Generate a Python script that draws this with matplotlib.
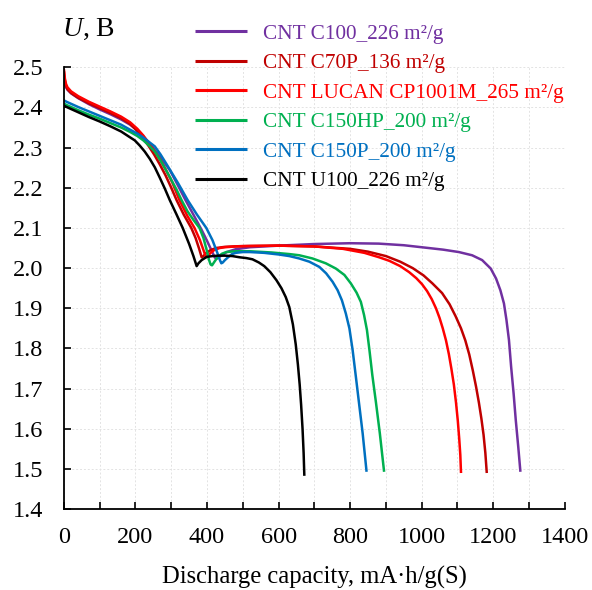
import numpy as np
import matplotlib
matplotlib.use("Agg")
import matplotlib.pyplot as plt

plt.rcParams["font.family"] = ["Liberation Serif", "DejaVu Serif"]
plt.rcParams["mathtext.fontset"] = "custom"
plt.rcParams["mathtext.rm"] = "Liberation Serif"
plt.rcParams["mathtext.it"] = "Liberation Serif:italic"

# discharge curves: capacity (mA·h/g) and voltage (V)
c100_x = [0, 1, 3, 6, 10, 20, 40, 70, 100, 130, 160, 185, 205, 222, 240, 258, 277, 296,
          318, 340, 362, 385, 400, 412, 422, 428, 438, 455, 480, 520, 600, 700, 800, 880,
          950, 1010, 1060, 1104, 1141, 1169, 1193, 1208, 1220, 1230, 1237, 1244, 1250,
          1257, 1263, 1270, 1276]
c100_y = [2.475, 2.468, 2.458, 2.45, 2.444, 2.435, 2.423, 2.408, 2.395, 2.383, 2.37, 2.357,
          2.343, 2.328, 2.31, 2.289, 2.267, 2.244, 2.207, 2.169, 2.133, 2.095, 2.068, 2.045,
          2.026, 2.024, 2.03, 2.04, 2.047, 2.052, 2.056, 2.06, 2.062, 2.061, 2.057, 2.051,
          2.046, 2.04, 2.032, 2.02, 1.999, 1.974, 1.945, 1.912, 1.871, 1.821, 1.755, 1.688,
          1.622, 1.555, 1.493]

c70p_x = [0, 1, 3, 6, 10, 20, 40, 70, 100, 130, 160, 185, 203, 220, 236, 252, 268, 284,
          300, 315, 335, 356, 368, 378, 385, 390, 398, 410, 425, 450, 500, 600, 700, 800,
          850, 900, 940, 975, 1005, 1030, 1057, 1078, 1095, 1110, 1122, 1133, 1143, 1152,
          1160, 1167, 1173, 1178, 1182]
c70p_y = [2.49, 2.48, 2.465, 2.453, 2.445, 2.436, 2.424, 2.41, 2.398, 2.386, 2.373, 2.359,
          2.343, 2.325, 2.305, 2.283, 2.258, 2.231, 2.2, 2.169, 2.133, 2.1, 2.075, 2.048,
          2.027, 2.03, 2.038, 2.045, 2.05, 2.053, 2.055, 2.056, 2.054, 2.048, 2.041, 2.03,
          2.016, 2.0, 1.982, 1.962, 1.938, 1.91, 1.88, 1.85, 1.82, 1.785, 1.745, 1.705,
          1.665, 1.625, 1.585, 1.54, 1.49]

lucan_x = [0, 1, 3, 6, 10, 20, 40, 70, 100, 130, 160, 185, 205, 222, 238, 254, 270, 286,
           303, 323, 345, 365, 380, 390, 397, 402, 410, 420, 435, 450, 480, 520, 600, 700,
           780, 840, 881, 910, 940, 965, 985, 1001, 1015, 1028, 1040, 1050, 1059, 1068,
           1076, 1083, 1090, 1096, 1101, 1105, 1108, 1110]
lucan_y = [2.495, 2.485, 2.47, 2.458, 2.45, 2.44, 2.428, 2.414, 2.402, 2.39, 2.377, 2.363,
           2.347, 2.33, 2.31, 2.29, 2.268, 2.243, 2.213, 2.169, 2.13, 2.1, 2.07, 2.045,
           2.027, 2.03, 2.038, 2.045, 2.05, 2.052, 2.054, 2.055, 2.056, 2.054, 2.048, 2.038,
           2.027, 2.018, 2.005, 1.99, 1.975, 1.96, 1.943, 1.923, 1.9, 1.876, 1.85, 1.82,
           1.786, 1.75, 1.71, 1.665, 1.62, 1.575, 1.535, 1.49]

c150hp_x = [0, 3, 10, 20, 40, 70, 100, 130, 160, 185, 205, 222, 238, 254, 270, 286, 300,
            315, 329, 345, 362, 379, 390, 399, 405, 410, 414, 420, 430, 442, 454, 480, 520,
            580, 630, 658, 695, 732, 760, 784, 802, 818, 830, 839, 847, 854, 862, 872, 883,
            895]
c150hp_y = [2.41, 2.408, 2.405, 2.401, 2.393, 2.382, 2.372, 2.361, 2.35, 2.339, 2.329,
            2.318, 2.305, 2.29, 2.268, 2.243, 2.22, 2.195, 2.169, 2.142, 2.12, 2.1, 2.075,
            2.045, 2.022, 2.009, 2.007, 2.015, 2.028, 2.036, 2.04, 2.042, 2.042, 2.039,
            2.035, 2.032, 2.024, 2.012, 1.999, 1.983, 1.962, 1.939, 1.916, 1.883, 1.846,
            1.796, 1.734, 1.667, 1.589, 1.493]

c150p_x = [0, 3, 10, 20, 40, 70, 100, 130, 160, 184, 205, 222, 238, 254, 270, 286, 303,
           320, 346, 372, 398, 415, 428, 436, 440, 444, 450, 460, 470, 480, 500, 520, 560,
           600, 630, 658, 686, 714, 733, 751, 765, 777, 788, 798, 807, 816, 825, 835, 846]
c150p_y = [2.418, 2.416, 2.413, 2.409, 2.401, 2.39, 2.379, 2.368, 2.357, 2.345, 2.335,
           2.325, 2.314, 2.303, 2.283, 2.26, 2.235, 2.21, 2.169, 2.133, 2.1, 2.07, 2.04,
           2.02, 2.012, 2.014, 2.02, 2.028, 2.035, 2.038, 2.04, 2.04, 2.038, 2.034, 2.03,
           2.024, 2.016, 2.003, 1.987, 1.966, 1.945, 1.92, 1.887, 1.85, 1.796, 1.73, 1.663,
           1.589, 1.493]

u100_x = [0, 3, 10, 20, 40, 70, 100, 130, 160, 184, 198, 212, 226, 240, 254, 268, 282, 296,
          314, 332, 350, 362, 371, 376, 385, 399, 415, 430, 450, 471, 491, 510, 527, 545,
          560, 577, 594, 608, 620, 630, 640, 648, 654, 659, 663, 667, 670, 672]
u100_y = [2.405, 2.403, 2.4, 2.396, 2.388, 2.376, 2.365, 2.353, 2.34, 2.326, 2.318, 2.305,
          2.29, 2.272, 2.251, 2.225, 2.198, 2.169, 2.135, 2.1, 2.06, 2.03, 2.005, 2.012,
          2.02, 2.028, 2.03, 2.031, 2.031, 2.03, 2.027, 2.025, 2.022, 2.014, 2.005, 1.99,
          1.97, 1.95, 1.928, 1.903, 1.86, 1.81, 1.76, 1.71, 1.66, 1.6, 1.54, 1.483]

SERIES = [
    ("CNT C100_226 m²/g",          c100_x,   c100_y,   "#7030A0"),
    ("CNT C70P_136 m²/g",          c70p_x,   c70p_y,   "#C00000"),
    ("CNT LUCAN CP1001M_265 m²/g", lucan_x,  lucan_y,  "#FF0000"),
    ("CNT C150HP_200 m²/g",        c150hp_x, c150hp_y, "#00B050"),
    ("CNT C150P_200 m²/g",         c150p_x,  c150p_y,  "#0070C0"),
    ("CNT U100_226 m²/g",          u100_x,   u100_y,   "#000000"),
]

fig = plt.figure(figsize=(5.92, 5.90), dpi=100)
ax = fig.add_axes([0.108, 0.137, 0.846, 0.749])

for label, xs, ys, col in SERIES:
    ax.plot(xs, ys, color=col, linewidth=1.8, label=label,
            solid_joinstyle="round", solid_capstyle="butt")

ax.set_xlim(0, 1400)
ax.set_ylim(1.4, 2.5)
ax.set_xticks(np.arange(0, 1401, 200))
ax.set_xticks(np.arange(0, 1401, 100), minor=True)
ax.set_yticks(np.arange(1.4, 2.501, 0.1))
ax.set_yticklabels([f"{v:.1f}" for v in np.arange(1.4, 2.501, 0.1)])
ax.grid(True, which="both", color="#E3E3E3", linestyle=(0, (2, 2)), linewidth=0.7)
ax.set_axisbelow(True)
ax.tick_params(which="both", direction="in", labelsize=17.5, width=1.2, length=5)
ax.tick_params(axis="y", pad=15)
ax.tick_params(axis="x", which="major", pad=13)
for s in ("top", "right"):
    ax.spines[s].set_visible(False)
for s in ("left", "bottom"):
    ax.spines[s].set_linewidth(1.3)

fig.text(0.531, 0.022, "Discharge capacity, mA·h/g(S)", fontsize=17.7,
         ha="center", va="center")
fig.text(0.104, 0.951, r"$U$, B", fontsize=20, va="center", ha="left")

leg = ax.legend(loc="upper left", bbox_to_anchor=(195 / 592, 1 - 24 / 590),
                bbox_transform=fig.transFigure, frameon=False, fontsize=15.3,
                handlelength=2.45, handletextpad=0.75, labelspacing=0.45,
                borderpad=0, borderaxespad=0, labelcolor="linecolor")
for h in leg.get_lines():
    h.set_linewidth(2.2)

fig.savefig("out.png", dpi=100)
